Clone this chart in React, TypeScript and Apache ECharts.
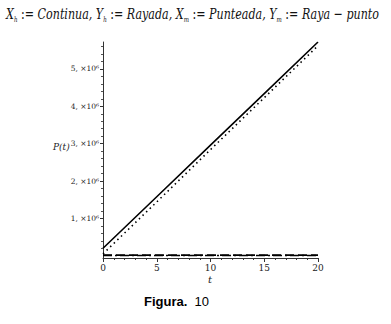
import React, { useEffect, useRef } from "react";
import * as echarts from "echarts";

const T = [0, 5, 10, 15, 20];
const X_H = [200000, 1580000, 2960000, 4340000, 5720000]; // continua
const X_M = [50000, 1440000, 2840000, 4230000, 5620000]; // punteada
const Y_H = [15000, 15000, 15000, 15000, 15000]; // rayada
const Y_M = [8000, 8000, 8000, 8000, 8000]; // raya - punto
const Y_TICKS = [1000000, 2000000, 3000000, 4000000, 5000000];
const Y_MINOR = [200000, 400000, 600000, 800000, 1200000, 1400000, 1600000, 1800000, 2200000, 2400000, 2600000, 2800000, 3200000, 3400000, 3600000, 3800000, 4200000, 4400000, 4600000, 4800000, 5200000, 5400000, 5600000];

const SERIF = "DejaVu Serif";
const SANS = "Liberation Sans";

export default function App() {
  const ref = useRef<HTMLDivElement>(null);
  useEffect(() => {
    const chart = echarts.init(ref.current!, null, { renderer: "svg" });
    const pts = (ys: number[]) => T.map((t, i) => [t, ys[i]]);
    const yMin = -60000;
    const yMax = 5720000;
    chart.setOption({
      animation: false,
      backgroundColor: "#fff",
      textStyle: { fontFamily: SERIF },
      grid: { left: 103, right: 73, top: 42, bottom: 66 },
      xAxis: {
        type: "value",
        min: 0,
        max: 20,
        interval: 5,
        axisLine: { show: true, onZero: false, lineStyle: { color: "#333", width: 1 } },
        axisTick: { show: true, length: 4, lineStyle: { color: "#333" } },
        minorTick: { show: true, splitNumber: 5, length: 2, lineStyle: { color: "#333" } },
        splitLine: { show: false },
        axisLabel: { fontFamily: SERIF, fontSize: 9, color: "#222", margin: 5 },
      },
      yAxis: [
        {
          type: "value",
          min: yMin,
          max: yMax,
          axisLine: { show: true, onZero: false, lineStyle: { color: "#333", width: 1 } },
          axisTick: { show: true, length: 3, customValues: Y_TICKS, lineStyle: { color: "#333" } },
          splitLine: { show: false },
          axisLabel: {
            customValues: Y_TICKS,
            fontFamily: SERIF,
            fontSize: 7.5,
            color: "#222",
            margin: 4,
            formatter: (v: number) => `${Math.round(v / 1000000)}, ×10⁶`,
          },
        },
        {
          type: "value",
          min: yMin,
          max: yMax,
          position: "left",
          axisLine: { show: false },
          axisTick: { show: true, length: 2, customValues: Y_MINOR, lineStyle: { color: "#555" } },
          splitLine: { show: false },
          axisLabel: { show: false },
        },
      ],
      series: [
        {
          name: "Xh",
          type: "line",
          data: pts(X_H),
          showSymbol: false,
          lineStyle: { color: "#000", width: 1.6 },
        },
        {
          name: "Xm",
          type: "line",
          data: pts(X_M),
          showSymbol: false,
          lineStyle: { color: "#000", width: 1.6, type: [1.5, 3.5] },
        },
        {
          name: "Yh",
          type: "line",
          data: pts(Y_H),
          showSymbol: false,
          lineStyle: { color: "#000", width: 1.8, type: [9, 4] },
        },
        {
          name: "Ym",
          type: "line",
          data: pts(Y_M),
          showSymbol: false,
          lineStyle: { color: "#000", width: 1.5, type: [9, 3, 2, 3] },
        },
      ],
      graphic: [
        {
          type: "text",
          x: 6,
          y: 4,
          scaleX: 0.74,
          style: {
            text:
              "{i|X}{s|h}{n| := }{i|Continua, Y}{s|h}{n| := }{i|Rayada, X}{s|m}{n| := }{i|Punteada, Y}{s|m}{n| := }{i|Raya}{n| − }{i|punto}",
            rich: {
              i: { fontFamily: SERIF, fontStyle: "italic", fontSize: 15, lineHeight: 20, fill: "#111" },
              n: { fontFamily: SERIF, fontSize: 15, lineHeight: 20, fill: "#111" },
              s: { fontFamily: SERIF, fontStyle: "italic", fontSize: 7.5, lineHeight: 6, verticalAlign: "bottom", fill: "#111" },
            },
          },
        },
        {
          type: "text",
          x: 53,
          y: 141,
          scaleX: 0.9,
          style: { text: "P(t)", fontFamily: SERIF, fontStyle: "italic", fontSize: 10, fill: "#222" },
        },
        {
          type: "text",
          x: 208,
          y: 274,
          style: { text: "t", fontFamily: SERIF, fontStyle: "italic", fontSize: 10, fill: "#222" },
        },
        {
          type: "text",
          x: 144,
          y: 295,
          style: {
            text: "{b|Figura.}{n|  10}",
            rich: {
              b: { fontFamily: SANS, fontWeight: "bold", fontSize: 13, fill: "#000" },
              n: { fontFamily: SANS, fontSize: 13, fill: "#000" },
            },
          },
        },
      ],
    });
    return () => chart.dispose();
  }, []);
  return (
    <div
      ref={ref}
      style={{ position: "absolute", left: 0, top: 0, width: 391, height: 324, background: "#fff" }}
    />
  );
}
